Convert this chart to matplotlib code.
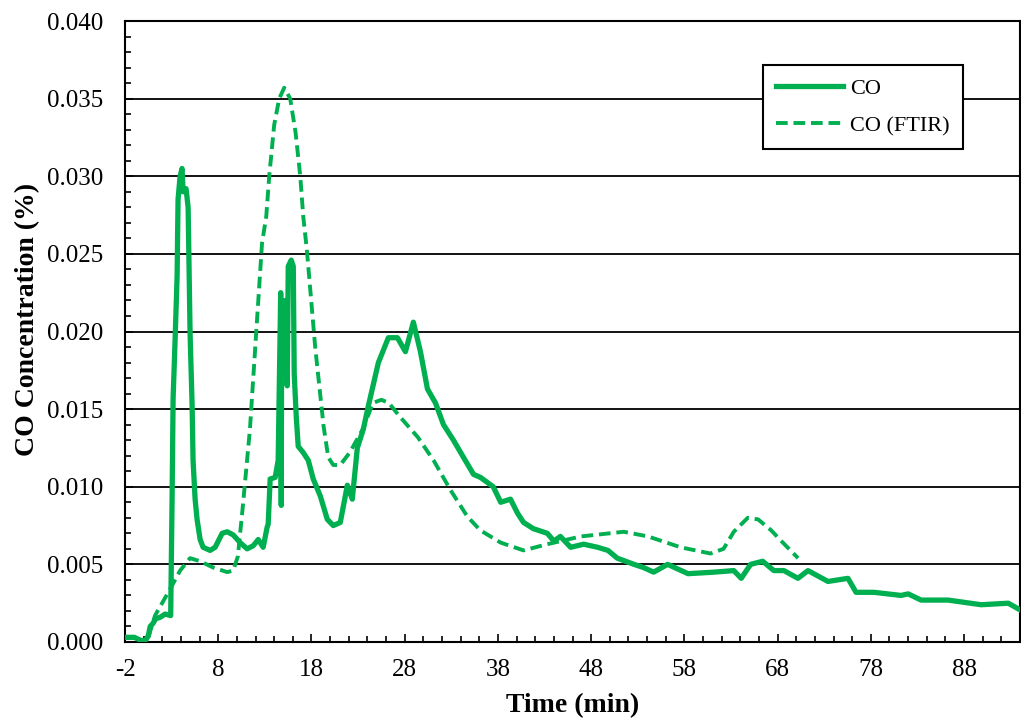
import matplotlib
matplotlib.use("Agg")
import matplotlib.pyplot as plt
from matplotlib.ticker import MultipleLocator, FormatStrFormatter, FixedLocator

plt.rcParams['font.family'] = ['Liberation Serif', 'DejaVu Serif']
plt.rcParams['axes.unicode_minus'] = False

GREEN = '#00B050'

# CO (analyser) - time in min, concentration in %
co_time = [-2.0, -1.0, -0.3, 0.2, 0.5, 0.7, 1.0, 1.3, 1.8, 2.3, 2.9, 3.05, 3.16, 3.37,
           3.59, 3.69, 3.91, 4.12, 4.23, 4.55, 4.77, 4.98, 5.20, 5.30, 5.52, 5.73, 6.06,
           6.38, 7.13, 7.67, 8.42, 8.96, 9.60, 10.35, 11.10, 11.75, 12.29, 12.82, 13.25,
           13.36, 13.57, 14.11, 14.43, 14.70, 14.76, 14.80, 14.97, 15.19, 15.40, 15.51,
           15.83, 16.05, 16.15, 16.37, 16.58, 17.12, 17.66, 18.19, 18.95, 19.70, 20.34,
           21.09, 21.85, 22.38, 22.92, 23.56, 24.10, 25.18, 26.25, 27.22, 28.08, 28.93,
           29.69, 30.44, 31.30, 32.16, 33.23, 34.30, 35.38, 36.13, 37.5, 38.3, 39.35,
           40.1, 40.75, 41.8, 43.3, 44.0, 44.7, 45.8, 47.2, 48.7, 49.8, 50.8, 52.6, 53.6,
           54.7, 56.2, 58.4, 61.2, 63.3, 64.1, 65.1, 66.4, 67.6, 68.68, 70.18, 71.26,
           73.40, 75.55, 76.41, 78.34, 81.24, 82.0, 83.39, 86.29, 89.84, 92.74, 93.92]
co_conc = [0.0003, 0.0003, 0.0001, 0.0001, 0.0004, 0.0010, 0.0012, 0.0015, 0.0016, 0.0018,
           0.0017, 0.0092, 0.0157, 0.0194, 0.0236, 0.0285, 0.0300, 0.0305, 0.0290, 0.0292,
           0.0280, 0.0199, 0.0152, 0.0117, 0.0092, 0.0079, 0.0066, 0.0061, 0.0059, 0.0061,
           0.0070, 0.0071, 0.0069, 0.0064, 0.0060, 0.0062, 0.0066, 0.0061, 0.0074, 0.0076,
           0.0105, 0.0106, 0.0117, 0.0225, 0.0088, 0.0200, 0.0208, 0.0220, 0.0165, 0.0242,
           0.0246, 0.0242, 0.0173, 0.0145, 0.0126, 0.0122, 0.0117, 0.0105, 0.0094, 0.0079,
           0.0075, 0.0077, 0.0101, 0.0092, 0.0125, 0.0137, 0.0152, 0.0180, 0.0196, 0.0196,
           0.0187, 0.0206, 0.0187, 0.0163, 0.0154, 0.0140, 0.0130, 0.0119, 0.0108, 0.0106,
           0.0100, 0.0090, 0.0092, 0.0083, 0.0077, 0.0073, 0.0070, 0.0065, 0.0068, 0.0061,
           0.0063, 0.0061, 0.0059, 0.0054, 0.0050, 0.0048, 0.0045, 0.0050, 0.0044, 0.0045,
           0.0046, 0.0041, 0.0050, 0.0052, 0.0046, 0.0046, 0.0041, 0.0046, 0.0039, 0.0041,
           0.0032, 0.0032, 0.0030, 0.0031, 0.0027, 0.0027, 0.0024, 0.0025, 0.0021]

# CO measured by FTIR
ftir_time = [0.5, 1.22, 2.83, 3.91, 4.98, 6.06, 7.45, 8.96, 9.6, 10.1, 10.6, 11.4, 12.07,
             12.7, 13.15, 13.47, 14.0, 14.54, 15.08, 15.72, 16.3, 16.8, 17.12, 17.5, 18.4,
             19.3, 19.8, 20.34, 21.09, 22.1, 23.5, 24.6, 25.5, 26.3, 27.5, 29.4, 31.1, 32.9,
             34.7, 36.1, 38.3, 40.75, 43.3, 46.9, 51.5, 54.1, 57.6, 60.8, 62.2, 63.3, 64.8,
             65.9, 67.3, 68.4, 70.2]
ftir_conc = [0.0003, 0.0017, 0.0034, 0.0046, 0.0054, 0.0052, 0.0048, 0.0045, 0.0046, 0.0055,
             0.0085, 0.0137, 0.0199, 0.0257, 0.0274, 0.0300, 0.0333, 0.0350, 0.0357, 0.0350,
             0.0328, 0.0300, 0.0274, 0.0253, 0.0190, 0.0139, 0.0119, 0.0114, 0.0114, 0.0122,
             0.0137, 0.0154, 0.0156, 0.0154, 0.0145, 0.0132, 0.0117, 0.0098, 0.0081, 0.0072,
             0.0064, 0.0059, 0.0063, 0.0068, 0.0071, 0.0068, 0.0061, 0.0057, 0.0060, 0.0071,
             0.0080, 0.0079, 0.0072, 0.0065, 0.0054]

x_ticks = [-2, 8, 18, 28, 38, 48, 58, 68, 78, 88]

fig = plt.figure(figsize=(10.21, 7.23), dpi=100)
ax = fig.add_axes([125 / 1021, 1 - 642 / 723, 895 / 1021, 621 / 723])

ax.plot(co_time, co_conc, color=GREEN, lw=3.8, label='CO', zorder=3)
ax.plot(ftir_time, ftir_conc, color=GREEN, lw=2.8, dashes=(3.0, 1.5), label='CO (FTIR)', zorder=3)

ax.set_xlim(-2, 94)
ax.set_ylim(0, 0.040)
ax.xaxis.set_major_locator(FixedLocator(x_ticks))
ax.xaxis.set_minor_locator(MultipleLocator(2))
ax.yaxis.set_major_locator(MultipleLocator(0.005))
ax.yaxis.set_minor_locator(MultipleLocator(0.001))
ax.yaxis.set_major_formatter(FormatStrFormatter('%.3f'))
ax.grid(axis='y', which='major', color='black', lw=1.3)
ax.set_axisbelow(True)

ax.tick_params(which='both', direction='in', colors='black', labelsize=18)
ax.tick_params(which='major', length=6, width=1.2)
ax.tick_params(which='minor', length=4, width=1.2)
ax.tick_params(axis='y', which='major', pad=16)
ax.tick_params(axis='x', which='major', pad=12)
for s in ax.spines.values():
    s.set_linewidth(1.5)
    s.set_color('black')

ax.set_xlabel('Time (min)', fontsize=20, fontweight='bold')
ax.set_ylabel('CO Concentration (%)', fontsize=20, fontweight='bold')
ax.xaxis.set_label_coords(0.5, -0.082)
ax.yaxis.set_label_coords(-0.095, 0.52)

leg = ax.legend(loc='upper left', bbox_to_anchor=(763 / 1021, 1 - 65 / 723),
                bbox_transform=fig.transFigure, borderaxespad=0, fancybox=False,
                framealpha=1, edgecolor='black', fontsize=16, handlelength=3.0,
                handletextpad=0.3, labelspacing=0.75, borderpad=0.6)
leg.get_frame().set_linewidth(1.5)

fig.savefig('out.png', dpi=100)
